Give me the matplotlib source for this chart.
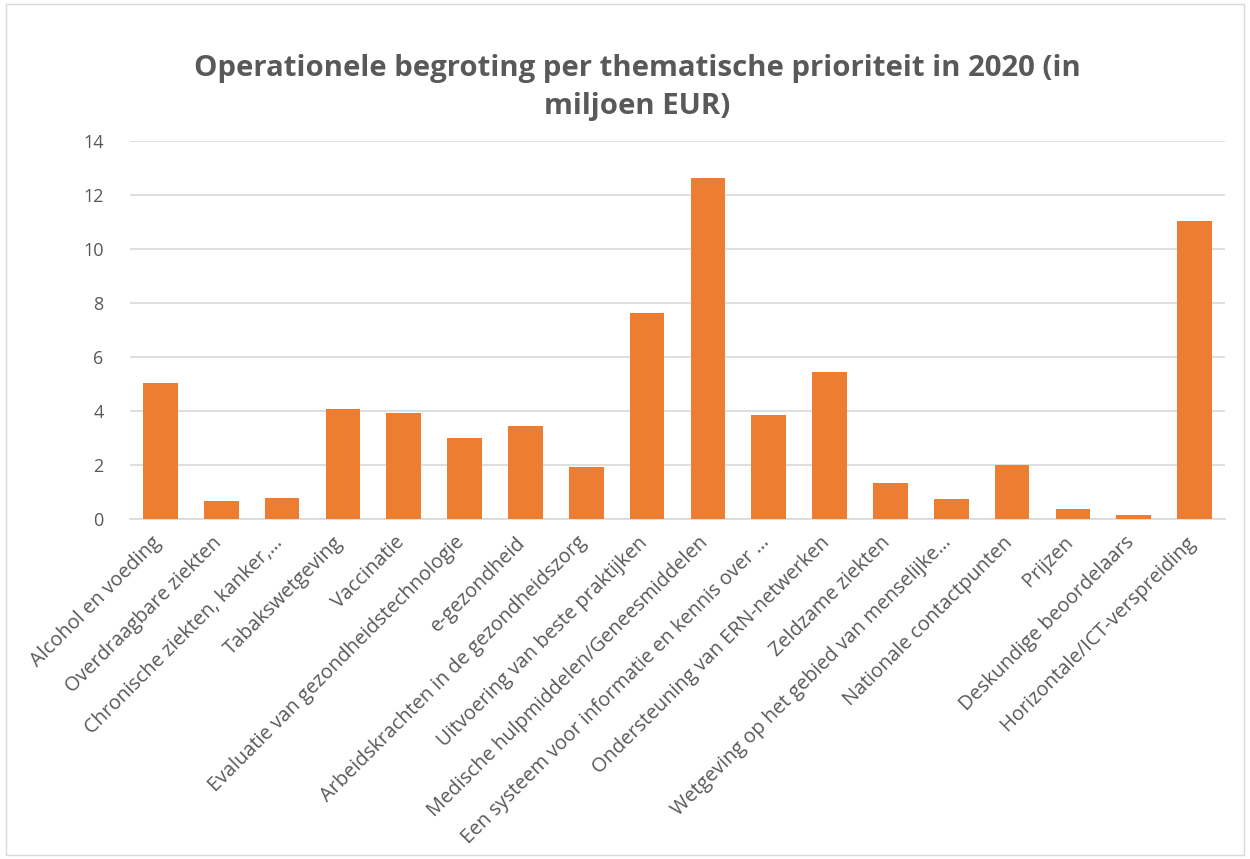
import matplotlib.pyplot as plt
from matplotlib.patches import Rectangle
from matplotlib.transforms import ScaledTranslation

categories = [
    'Alcohol en voeding',
    'Overdraagbare ziekten',
    'Chronische ziekten, kanker,…',
    'Tabakswetgeving',
    'Vaccinatie',
    'Evaluatie van gezondheidstechnologie',
    'e-gezondheid',
    'Arbeidskrachten in de gezondheidszorg',
    'Uitvoering van beste praktijken',
    'Medische hulpmiddelen/Geneesmiddelen',
    'Een systeem voor informatie en kennis over …',
    'Ondersteuning van ERN-netwerken',
    'Zeldzame ziekten',
    'Wetgeving op het gebied van menselijke…',
    'Nationale contactpunten',
    'Prijzen',
    'Deskundige beoordelaars',
    'Horizontale/ICT-verspreiding',
]
values = [5.04, 0.66, 0.78, 4.06, 3.91, 2.98, 3.44, 1.91, 7.61, 12.63,
          3.84, 5.44, 1.32, 0.75, 1.99, 0.37, 0.14, 11.05]
yticks = [0, 2, 4, 6, 8, 10, 12, 14]

text_col = '#595959'
grid_col = '#D9D9D9'
bar_col = '#ED7D31'

plt.rcParams['font.family'] = ['Open Sans', 'DejaVu Sans']

fig = plt.figure(figsize=(12.5, 8.59), dpi=100)
# outer chart border
fig.patches.append(Rectangle((0.005, 0.005), 0.99, 0.99, transform=fig.transFigure,
                             fill=False, edgecolor=grid_col, linewidth=1))
ax = fig.add_axes([0.104, 0.396, 0.876, 0.44])

x = list(range(len(categories)))
ax.bar(x, values, width=0.57, color=bar_col, zorder=3)
ax.set_xlim(-0.5, len(categories) - 0.5)
ax.set_ylim(0, 14)
ax.set_yticks(yticks)
ax.set_yticklabels([str(t) for t in yticks], fontsize=13, color=text_col)
ax.yaxis.grid(True, color=grid_col, linewidth=1.2, zorder=0)
ax.set_axisbelow(True)
ax.tick_params(axis='both', length=0)
ax.tick_params(axis='y', pad=19)
for s in ['top', 'right', 'left']:
    ax.spines[s].set_visible(False)
ax.spines['bottom'].set_color(grid_col)
ax.spines['bottom'].set_linewidth(1.2)

ax.set_xticks(x)
ax.set_xticklabels(categories, rotation=45, ha='right', va='top',
                   rotation_mode='anchor', fontsize=14.3, color=text_col)
ax.tick_params(axis='x', pad=10)
# nudge the rotated labels a little to the left, like Excel does
shift = ScaledTranslation(-7 / 72, 0, fig.dpi_scale_trans)
for lab in ax.get_xticklabels():
    lab.set_transform(lab.get_transform() + shift)

fig.text(0.51, 0.898, 'Operationele begroting per thematische prioriteit in 2020 (in\nmiljoen EUR)',
         ha='center', va='center', fontsize=21.2, fontweight='bold', color=text_col,
         linespacing=1.38)

fig.savefig('out.png', dpi=100)
